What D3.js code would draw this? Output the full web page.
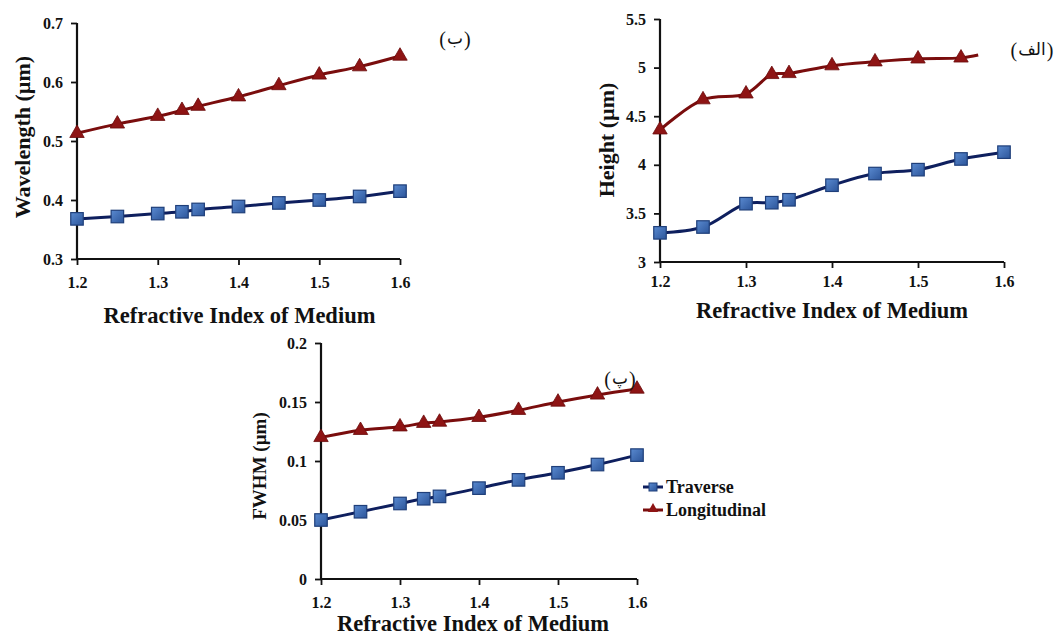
<!DOCTYPE html>
<html><head><meta charset="utf-8">
<script src="https://cdn.jsdelivr.net/npm/d3@7"></script>
<style>
body{margin:0;background:#fff;}
svg{display:block;}
.tick text{font-family:"Liberation Serif",serif;font-weight:bold;}
</style></head>
<body>
<svg id="c" width="1057" height="637"></svg>
<script>
// ---------- data ----------
const refIndex = [1.2, 1.25, 1.3, 1.33, 1.35, 1.4, 1.45, 1.5, 1.55, 1.6];
const xTicks = [1.2, 1.3, 1.4, 1.5, 1.6];

// (ب) Wavelength
const wavelengthTraverse     = [0.368, 0.372, 0.377, 0.380, 0.384, 0.389, 0.395, 0.400, 0.406, 0.415];
const wavelengthLongitudinal = [0.513, 0.529, 0.542, 0.552, 0.559, 0.575, 0.594, 0.612, 0.626, 0.644];
const wavelengthTicks = [0.3, 0.4, 0.5, 0.6, 0.7];

// (الف) Height
const heightTraverse     = [3.30, 3.36, 3.60, 3.61, 3.64, 3.79, 3.91, 3.95, 4.06, 4.13];
const heightLongX        = [1.2, 1.25, 1.3, 1.33, 1.35, 1.4, 1.45, 1.5, 1.55, 1.57];
const heightLongitudinal = [4.36, 4.67, 4.73, 4.93, 4.94, 5.02, 5.06, 5.09, 5.10, 5.13];
const heightLongMarker   = [true, true, true, true, true, true, true, true, true, false];
const heightTicks = [3, 3.5, 4, 4.5, 5, 5.5];

// (پ) FWHM
const fwhmTraverse     = [0.050, 0.057, 0.064, 0.068, 0.070, 0.077, 0.084, 0.090, 0.097, 0.105];
const fwhmLongitudinal = [0.120, 0.126, 0.129, 0.132, 0.133, 0.137, 0.143, 0.150, 0.156, 0.161];
const fwhmTicks = [0, 0.05, 0.1, 0.15, 0.2];

const seriesNames = ["Traverse", "Longitudinal"];
const xTitle = "Refractive Index of Medium";
const panelLabels = ["ب", "الف", "پ"];

// ---------- style ----------
const blueLine = "#0e1f5e", blueStroke = "#1f3f7a";
const redLine = "#7a0d0d", redFill = "#8e1414";
const serif = "'Liberation Serif', 'Times New Roman', serif";

const svg = d3.select("#c");
const defs = svg.append("defs");
const grad = defs.append("linearGradient").attr("id","sq").attr("x1","0").attr("y1","0").attr("x2","1").attr("y2","1");
grad.append("stop").attr("offset","0%").attr("stop-color","#5a8ad0");
grad.append("stop").attr("offset","100%").attr("stop-color","#2c559a");

const labelFixers = [];
function drawLabel(cx, cy, word){
  const g = svg.append("g");
  const mid = g.append("text").attr("x",cx).attr("y",cy).attr("text-anchor","middle").attr("dominant-baseline","central")
    .style("font-family","'DejaVu Sans', sans-serif").style("font-size","17px").attr("fill","#111").text(word);
  const pst = t => t.attr("y",cy+1).attr("dominant-baseline","central").style("font-family",serif)
    .style("font-size","20px").attr("fill","#111");
  const lp = pst(g.append("text").attr("text-anchor","end").text("("));
  const rp = pst(g.append("text").attr("text-anchor","start").text(")"));
  const place = () => {
    let w = 0;
    try { w = mid.node().getBBox().width; } catch(e) { w = 0; }
    if (!(w > 5)) w = word.length * 9 + 5;
    lp.attr("x", cx - w/2 - 1);
    rp.attr("x", cx + w/2 + 1);
  };
  place();
  labelFixers.push(place);
}

function drawPanel(cfg){
  const g = svg.append("g");
  const x = d3.scaleLinear().domain([1.2,1.6]).range([cfg.x0, cfg.x1]);
  const y = d3.scaleLinear().domain(cfg.yDomain).range([cfg.yBot, cfg.yTop]);

  const yAxis = d3.axisLeft(y).tickValues(cfg.yTicks).tickSize(6).tickPadding(8).tickFormat(d3.format(""));
  const ya = g.append("g").attr("transform",`translate(${cfg.x0},0)`).call(yAxis);
  const xAxis = d3.axisBottom(x).tickValues(xTicks).tickSize(6).tickPadding(cfg.xPad).tickFormat(d3.format(".1f"));
  const xa = g.append("g").attr("transform",`translate(0,${cfg.yBot})`).call(xAxis);
  [ya,xa].forEach(a=>{
    a.select(".domain").remove();
    a.selectAll(".tick line").attr("stroke","#111").attr("stroke-width",1.8);
    a.selectAll(".tick text").attr("fill","#111").style("font-size","16px");
  });
  g.append("line").attr("x1",cfg.x0).attr("x2",cfg.x0).attr("y1",cfg.yTop).attr("y2",cfg.yBot).attr("stroke","#111").attr("stroke-width",2.2);
  g.append("line").attr("x1",cfg.x0-1).attr("x2",cfg.x1).attr("y1",cfg.yBot).attr("y2",cfg.yBot).attr("stroke","#111").attr("stroke-width",2.2);

  g.append("text").attr("x",(cfg.x0+cfg.x1)/2+cfg.xtDx).attr("y",cfg.xtY).attr("text-anchor","middle")
    .style("font-family",serif).style("font-weight","bold").style("font-size","22.5px").attr("fill","#111").text(xTitle);
  g.append("text").attr("transform",`translate(${cfg.ytX},${cfg.ytY}) rotate(-90)`).attr("text-anchor","middle")
    .attr("dominant-baseline","central")
    .style("font-family",serif).style("font-weight","bold").style("font-size",cfg.ytSize+"px").attr("fill","#111").text(cfg.yTitle);

  const line = d3.line().x(d=>x(d[0])).y(d=>y(d[1])).curve(d3.curveCatmullRom.alpha(0.5));
  const tData = refIndex.map((r,i)=>[r,cfg.trav[i]]);
  g.append("path").attr("d",line(tData)).attr("fill","none").attr("stroke",blueLine).attr("stroke-width",3);
  const lx = cfg.longX || refIndex;
  const lData = lx.map((r,i)=>[r,cfg.long[i]]);
  g.append("path").attr("d",line(lData)).attr("fill","none").attr("stroke",redLine).attr("stroke-width",3);

  const sq = 12.5;
  g.selectAll(".sq").data(tData).enter().append("rect")
    .attr("x",d=>x(d[0])-sq/2).attr("y",d=>y(d[1])-sq/2).attr("width",sq).attr("height",sq)
    .attr("fill","url(#sq)").attr("stroke",blueStroke).attr("stroke-width",1.2);
  const tri = d3.symbol().type(d3.symbolTriangle).size(90);
  const mk = cfg.longMarker || lx.map(()=>true);
  g.selectAll(".tri").data(lData.filter((d,i)=>mk[i])).enter().append("path")
    .attr("d",tri).attr("transform",d=>`translate(${x(d[0])},${y(d[1])})`)
    .attr("fill",redFill).attr("stroke","#6a0a0a").attr("stroke-width",0.8);

  drawLabel(cfg.lblX, cfg.lblY, cfg.label);
  return g;
}

drawPanel({x0:77,x1:400,yTop:23,yBot:259,yDomain:[0.3,0.7],yTicks:wavelengthTicks,
  trav:wavelengthTraverse,long:wavelengthLongitudinal,xPad:12,xtY:323,xtDx:1,
  yTitle:"Wavelength (µm)",ytX:22,ytY:137,ytSize:22,label:panelLabels[0],lblX:455,lblY:38});

drawPanel({x0:660,x1:1004,yTop:19,yBot:262,yDomain:[3,5.5],yTicks:heightTicks,
  trav:heightTraverse,long:heightLongitudinal,longX:heightLongX,longMarker:heightLongMarker,xPad:8,xtY:318,xtDx:0,
  yTitle:"Height (µm)",ytX:606,ytY:140,ytSize:22,label:panelLabels[1],lblX:1032,lblY:49});

drawPanel({x0:321,x1:637,yTop:343,yBot:579,yDomain:[0,0.2],yTicks:fwhmTicks,
  trav:fwhmTraverse,long:fwhmLongitudinal,xPad:12,xtY:631,xtDx:-6,
  yTitle:"FWHM (µm)",ytX:259,ytY:466,ytSize:19,label:panelLabels[2],lblX:620,lblY:378});

if (document.fonts && document.fonts.ready) document.fonts.ready.then(()=>labelFixers.forEach(f=>f()));

// legend
const leg = svg.append("g");
seriesNames.forEach((name,i)=>{
  const yy = 487 + i*23;
  leg.append("line").attr("x1",643).attr("x2",663).attr("y1",yy).attr("y2",yy)
    .attr("stroke", i===0?blueLine:redLine).attr("stroke-width",3);
  if(i===0){
    leg.append("rect").attr("x",649).attr("y",yy-4).attr("width",8).attr("height",8).attr("fill","url(#sq)").attr("stroke",blueStroke).attr("stroke-width",1);
  } else {
    leg.append("path").attr("d",d3.symbol().type(d3.symbolTriangle).size(45)).attr("transform",`translate(653,${yy-1})`).attr("fill",redFill);
  }
  leg.append("text").attr("x",666).attr("y",yy).attr("dominant-baseline","central")
    .style("font-family",serif).style("font-weight","bold").style("font-size","18px").attr("fill","#111").text(name);
});
</script>
</body></html>
